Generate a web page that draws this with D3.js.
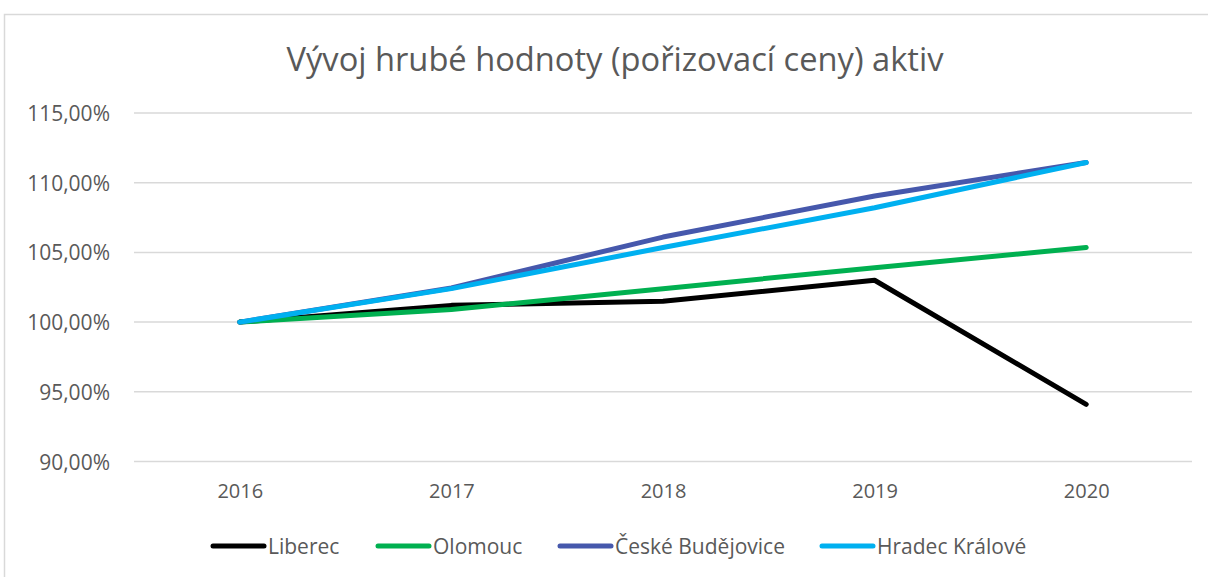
<!DOCTYPE html>
<html>
<head>
<meta charset="utf-8">
<script src="https://cdn.jsdelivr.net/npm/d3@7"></script>
<style>
html, body { margin: 0; padding: 0; background: #fff; }
svg { display: block; }
</style>
</head>
<body>
<svg id="chart" width="1208" height="577"></svg>
<script>
const title = "Vývoj hrubé hodnoty (pořizovací ceny) aktiv";
const years = ["2016", "2017", "2018", "2019", "2020"];
const yTicks = [90, 95, 100, 105, 110, 115];
const seriesNames = ["Liberec", "Olomouc", "České Budějovice", "Hradec Králové"];
const liberec = [100, 101.2, 101.5, 103.0, 94.1];
const olomouc = [100, 100.9, 102.4, 103.9, 105.35];
const ceskeBudejovice = [100, 102.45, 106.1, 109.05, 111.45];
const hradecKralove = [100, 102.4, 105.35, 108.2, 111.45];
const colors = ["#000000", "#00B050", "#4658AC", "#00B0F0"];

const series = [liberec, olomouc, ceskeBudejovice, hradecKralove].map((v, i) => ({
  name: seriesNames[i], values: v, color: colors[i]
}));

const svg = d3.select("#chart");
const font = "'Open Sans', 'Noto Sans', sans-serif";
const textColor = "#595959";
const gridColor = "#d9d9d9";

// chart border
svg.append("rect")
  .attr("x", 4.5).attr("y", 14.5)
  .attr("width", 1220).attr("height", 580)
  .attr("fill", "#fff")
  .attr("stroke", gridColor).attr("stroke-width", 1.5);

const x = d3.scalePoint().domain(years).range([134, 1192]).padding(0.5);
const y = d3.scaleLinear().domain([90, 115]).range([461.5, 113]);

// title
svg.append("text")
  .attr("x", 615).attr("y", 71)
  .attr("text-anchor", "middle")
  .attr("font-family", font)
  .attr("font-size", 32)
  .attr("fill", textColor)
  .attr("textLength", 657)
  .attr("lengthAdjust", "spacingAndGlyphs")
  .text(title);

// gridlines
svg.append("g").selectAll("line").data(yTicks).join("line")
  .attr("x1", 134).attr("x2", 1192)
  .attr("y1", d => y(d)).attr("y2", d => y(d))
  .attr("stroke", gridColor).attr("stroke-width", 1.5);

// y axis labels
const yAxis = d3.axisLeft(y).tickValues(yTicks)
  .tickSize(0).tickPadding(0)
  .tickFormat(d => d3.format(".2f")(d).replace(".", ",") + "%");
const gy = svg.append("g").attr("transform", "translate(110,0)").call(yAxis);
gy.select(".domain").remove();
gy.selectAll("text")
  .attr("font-family", font).attr("font-size", 21)
  .attr("fill", textColor).attr("dy", "0.36em");

// x axis labels
const xAxis = d3.axisBottom(x).tickSize(0).tickPadding(0);
const gx = svg.append("g").attr("transform", "translate(0,484)").call(xAxis);
gx.select(".domain").remove();
gx.selectAll("text")
  .attr("font-family", font).attr("font-size", 20)
  .attr("fill", textColor).attr("dy", "0.71em");

// lines
const line = d3.line().x((d, i) => x(years[i])).y(d => y(d));
svg.append("g").selectAll("path").data(series).join("path")
  .attr("d", d => line(d.values))
  .attr("fill", "none")
  .attr("stroke", d => d.color)
  .attr("stroke-width", 5)
  .attr("stroke-linejoin", "round")
  .attr("stroke-linecap", "round");

// legend
const legendX = [213, 378, 560, 822];
const legendY = 546;
const lg = svg.append("g").selectAll("g").data(series).join("g")
  .attr("transform", (d, i) => `translate(${legendX[i]},${legendY})`);
lg.append("line")
  .attr("x1", 0).attr("x2", 51).attr("y1", 0).attr("y2", 0)
  .attr("stroke", d => d.color).attr("stroke-width", 5)
  .attr("stroke-linecap", "round");
lg.append("text")
  .attr("x", 55).attr("y", 0).attr("dy", "0.36em")
  .attr("font-family", font).attr("font-size", 21)
  .attr("fill", textColor)
  .text(d => d.name);
</script>
</body>
</html>
